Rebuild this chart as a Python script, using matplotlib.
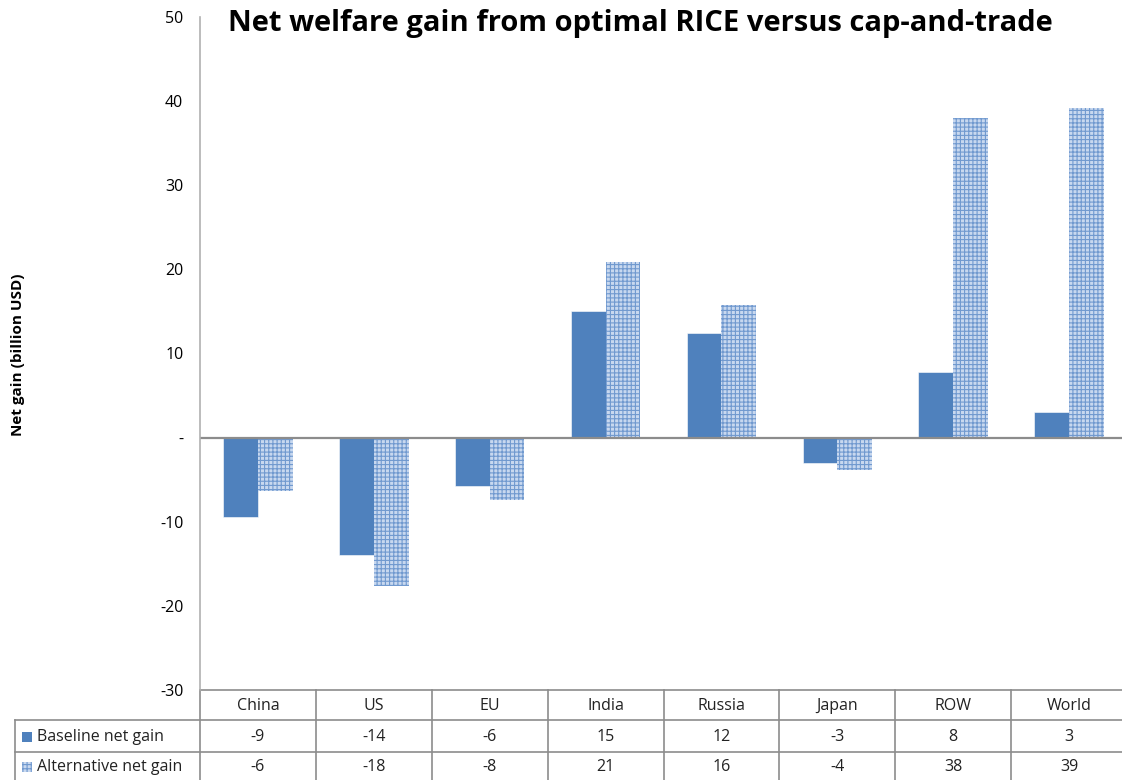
import matplotlib.pyplot as plt
import matplotlib.transforms as mtransforms
from matplotlib.patches import Rectangle

regions = ["China", "US", "EU", "India", "Russia", "Japan", "ROW", "World"]
baseline = [-9.4, -13.9, -5.8, 15.1, 12.4, -3.0, 7.8, 3.0]
alternative = [-6.4, -17.6, -7.4, 20.9, 15.8, -3.8, 38.0, 39.2]
baseline_lbl = ["-9", "-14", "-6", "15", "12", "-3", "8", "3"]
alternative_lbl = ["-6", "-18", "-8", "21", "16", "-4", "38", "39"]
series = ["Baseline net gain", "Alternative net gain"]
yticks = [-30, -20, -10, 0, 10, 20, 30, 40, 50]
ytick_lbl = ["-30", "-20", "-10", "-", "10", "20", "30", "40", "50"]

W, H = 1122, 780
plt.rcParams['font.family'] = ['Open Sans', 'DejaVu Sans']
plt.rcParams['hatch.linewidth'] = 0.8

BLUE = '#4F81BD'
ALT_FACE = '#C8D8EF'
ALT_HATCH = '#7099CF'
GRID = '#8C8C8C'

fig = plt.figure(figsize=(W / 100, H / 100), dpi=100)

# plot area in pixels
x0, x1 = 200, 1127
ytop, ybot = 17, 690
ax = fig.add_axes([x0 / W, (H - ybot) / H, (x1 - x0) / W, (ybot - ytop) / H])
ax.set_xlim(-0.5, len(regions) - 0.5)
ax.set_ylim(-30, 50)

xs = list(range(len(regions)))
bw = 0.3
ax.bar([x - bw / 2 for x in xs], baseline, bw, color=BLUE, edgecolor='white', linewidth=0.4)
ax.bar([x + bw / 2 for x in xs], alternative, bw, color=ALT_FACE, edgecolor=ALT_HATCH,
       hatch='++++', linewidth=0)

ax.axhline(0, color=GRID, lw=1.6)
for s in ['top', 'right', 'bottom']:
    ax.spines[s].set_visible(False)
ax.spines['left'].set_color('#B0B0B0')
ax.spines['left'].set_linewidth(1.2)
ax.set_yticks(yticks)
ax.set_yticklabels(ytick_lbl, fontsize=11.5)
ax.tick_params(axis='y', length=0, pad=12)
ax.set_xticks([])

fig.text(640 / W, 1 - 23 / H, "Net welfare gain from optimal RICE versus cap-and-trade",
         ha='center', va='center', fontsize=21, fontweight='bold')
fig.text(18 / W, 1 - 355 / H, "Net gain (billion USD)", rotation=90, ha='center',
         va='center', fontsize=11, fontweight='bold')

# data table under the plot
ph = ybot - ytop
def fy(py):
    return (ybot - py) / ph

trans = mtransforms.blended_transform_factory(ax.transData, ax.transAxes)
ftrans = mtransforms.blended_transform_factory(fig.transFigure, ax.transAxes)
lk = dict(color=GRID, lw=1.2, clip_on=False)

ax.plot([-0.5, len(regions) - 0.5], [fy(690), fy(690)], transform=trans, **lk)
for py in [720, 752]:
    ax.plot([15 / W, 1], [fy(py), fy(py)], transform=ftrans, **lk)
ax.plot([15 / W, 15 / W], [fy(720), fy(782)], transform=ftrans, **lk)
for i in range(len(regions) + 1):
    ax.plot([i - 0.5, i - 0.5], [fy(690), fy(782)], transform=trans, **lk)

for i, r in enumerate(regions):
    ax.text(i, fy(706), r, transform=trans, ha='center', va='center', fontsize=11.5, color='#222222')
    ax.text(i, fy(737), baseline_lbl[i], transform=trans, ha='center', va='center', fontsize=11.5, color='#222222')
    ax.text(i, fy(767), alternative_lbl[i], transform=trans, ha='center', va='center', fontsize=11.5, color='#222222')

# legend keys inside the table
fig.patches.append(Rectangle((22 / W, 1 - 742 / H), 10 / W, 10 / H, transform=fig.transFigure,
                             facecolor=BLUE, edgecolor='none'))
fig.patches.append(Rectangle((22 / W, 1 - 772 / H), 10 / W, 10 / H, transform=fig.transFigure,
                             facecolor=ALT_FACE, edgecolor=ALT_HATCH, hatch='++++', linewidth=0))
fig.text(37 / W, 1 - 737 / H, series[0], ha='left', va='center', fontsize=11.5, color='#222222')
fig.text(37 / W, 1 - 767 / H, series[1], ha='left', va='center', fontsize=11.5, color='#222222')

fig.savefig("out.png", dpi=100)
